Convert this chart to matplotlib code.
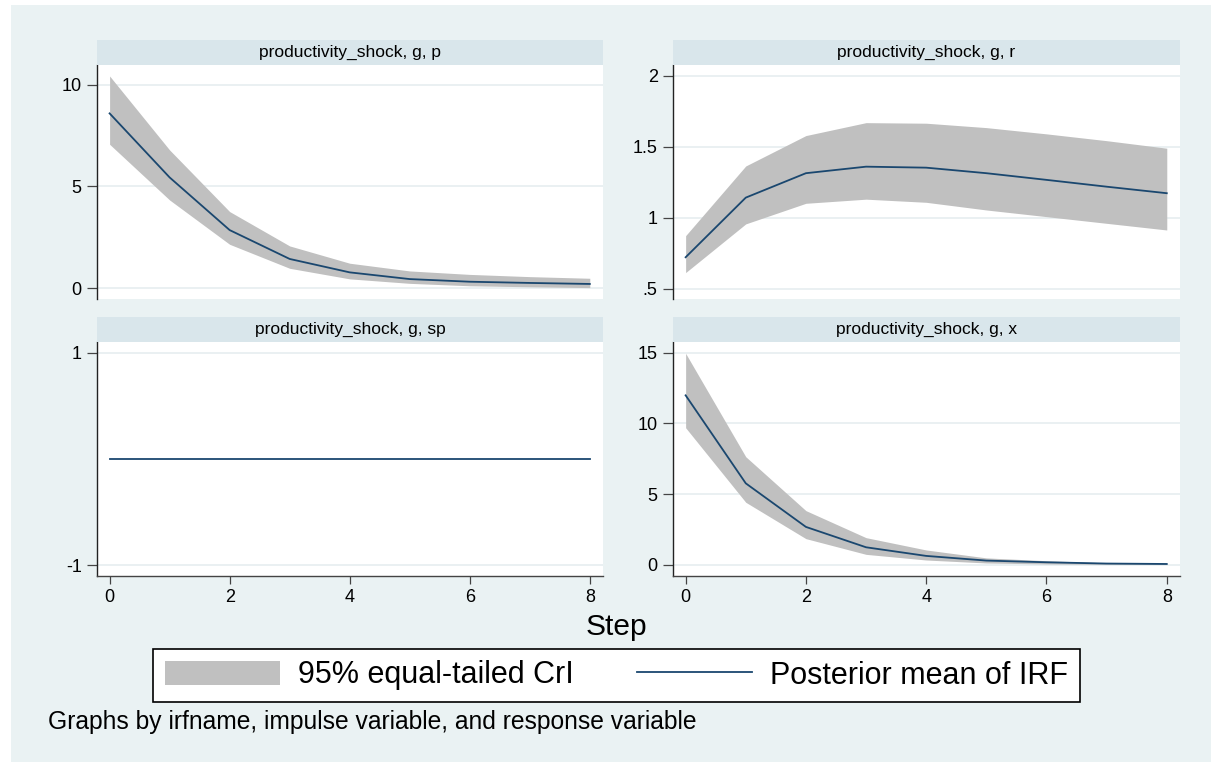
import matplotlib
matplotlib.use("Agg")
import matplotlib.pyplot as plt
from matplotlib.patches import Rectangle, Patch
from matplotlib.lines import Line2D

plt.rcParams['font.family'] = ['Liberation Sans', 'DejaVu Sans']
plt.rcParams['axes.unicode_minus'] = False

# ---------------- data ----------------
steps = [0, 1, 2, 3, 4, 5, 6, 7, 8]

titles = ["productivity_shock, g, p", "productivity_shock, g, r",
          "productivity_shock, g, sp", "productivity_shock, g, x"]

p_mean = [8.59, 5.44, 2.85, 1.43, 0.77, 0.44, 0.31, 0.25, 0.20]
p_lo = [7.07, 4.33, 2.15, 0.97, 0.45, 0.23, 0.11, 0.06, 0.02]
p_hi = [10.43, 6.79, 3.76, 2.07, 1.22, 0.84, 0.67, 0.56, 0.48]

r_mean = [0.721, 1.141, 1.313, 1.359, 1.352, 1.313, 1.266, 1.218, 1.172]
r_lo = [0.613, 0.956, 1.101, 1.130, 1.108, 1.054, 1.007, 0.960, 0.913]
r_hi = [0.873, 1.364, 1.578, 1.669, 1.665, 1.634, 1.590, 1.542, 1.489]

sp_mean = [0, 0, 0, 0, 0, 0, 0, 0, 0]
sp_lo = [0, 0, 0, 0, 0, 0, 0, 0, 0]
sp_hi = [0, 0, 0, 0, 0, 0, 0, 0, 0]

x_mean = [11.99, 5.77, 2.69, 1.25, 0.64, 0.31, 0.19, 0.10, 0.07]
x_lo = [9.70, 4.43, 1.86, 0.75, 0.35, 0.14, 0.07, 0.04, 0.03]
x_hi = [14.96, 7.65, 3.84, 1.93, 1.06, 0.50, 0.30, 0.15, 0.09]

x_ticks = [0, 2, 4, 6, 8]
p_yticks = [0, 5, 10]
r_yticks = [0.5, 1, 1.5, 2]
r_yticklabels = [".5", "1", "1.5", "2"]
sp_yticks = [-1, 1]
x_yticks = [0, 5, 10, 15]

legend_labels = ["95% equal-tailed CrI", "Posterior mean of IRF"]

# ---------------- style ----------------
BG = "#EAF2F3"
STRIP = "#D9E6EB"
GRID = "#E6EEF0"
BAND = "#C0C0C0"
LINE = "#1A476F"

W, H = 1211, 762
fig = plt.figure(figsize=(W / 100, H / 100), dpi=100)
fig.patch.set_facecolor("white")
fig.patches.append(Rectangle((11 / W, 0), 1 - 11 / W, (H - 5) / H,
                             transform=fig.transFigure, facecolor=BG,
                             edgecolor="none", zorder=-10))


def px_axes(x0, y0, x1, y1):
    return fig.add_axes([x0 / W, 1 - y1 / H, (x1 - x0) / W, (y1 - y0) / H])


panels = [
    (px_axes(97, 65, 603, 299), p_mean, p_lo, p_hi, p_yticks, None, (-0.54, 10.97), False),
    (px_axes(673, 65, 1180, 299), r_mean, r_lo, r_hi, r_yticks, r_yticklabels, (0.427, 2.075), False),
    (px_axes(97, 342, 603, 576), sp_mean, sp_lo, sp_hi, sp_yticks, None, (-1.10, 1.10), True),
    (px_axes(673, 342, 1180, 576), x_mean, x_lo, x_hi, x_yticks, None, (-0.78, 15.76), True),
]

for (ax, mean, lo, hi, yt, ytl, ylim, bottom), title in zip(panels, titles):
    ax.set_facecolor("white")
    ax.fill_between(steps, lo, hi, color=BAND, linewidth=0, zorder=2)
    ax.plot(steps, mean, color=LINE, linewidth=1.3, zorder=3)
    ax.set_xlim(-0.21, 8.22)
    ax.set_ylim(*ylim)
    ax.set_yticks(yt)
    if ytl is not None:
        ax.set_yticklabels(ytl)
    for v in yt:
        ax.axhline(v, color=GRID, linewidth=1.2, zorder=1)
    for s in ["top", "right"]:
        ax.spines[s].set_visible(False)
    ax.spines["left"].set_color("#222222")
    ax.spines["left"].set_linewidth(1.0)
    ax.tick_params(axis="y", direction="out", length=7, width=0.9,
                   color="#444444", labelsize=13, pad=4)
    if bottom:
        ax.set_xticks(x_ticks)
        ax.spines["bottom"].set_color("#444444")
        ax.spines["bottom"].set_linewidth(1.0)
        ax.tick_params(axis="x", direction="out", length=6, width=0.9,
                       color="#444444", labelsize=13, pad=3)
    else:
        ax.spines["bottom"].set_visible(False)
        ax.set_xticks([])
    # strip title
    sax = ax.inset_axes([0, 1, 1, 25 / 234])
    sax.set_facecolor(STRIP)
    sax.set_xticks([])
    sax.set_yticks([])
    for s in sax.spines.values():
        s.set_visible(False)
    sax.text(0.5, 0.5, title, ha="center", va="center", fontsize=12.5,
             transform=sax.transAxes)

fig.text(616 / W, 1 - 627 / H, "Step", ha="center", va="center", fontsize=21.5)

handles = [Patch(facecolor=BAND, edgecolor="none"),
           Line2D([0], [0], color=LINE, linewidth=1.3)]
leg = fig.legend(handles, legend_labels, ncol=2, loc="center",
                 bbox_to_anchor=(616.5 / W, 1 - 675.5 / H),
                 fontsize=22, frameon=True, fancybox=False,
                 edgecolor="black", facecolor="white", framealpha=1,
                 handlelength=3.76, handleheight=0.85, handletextpad=0.6,
                 columnspacing=2.05, borderpad=0.38, borderaxespad=0)
leg.get_frame().set_linewidth(1.2)

fig.text(48 / W, 1 - 722 / H,
         "Graphs by irfname, impulse variable, and response variable",
         ha="left", va="center", fontsize=17.7)

fig.savefig("out.png", dpi=100)
